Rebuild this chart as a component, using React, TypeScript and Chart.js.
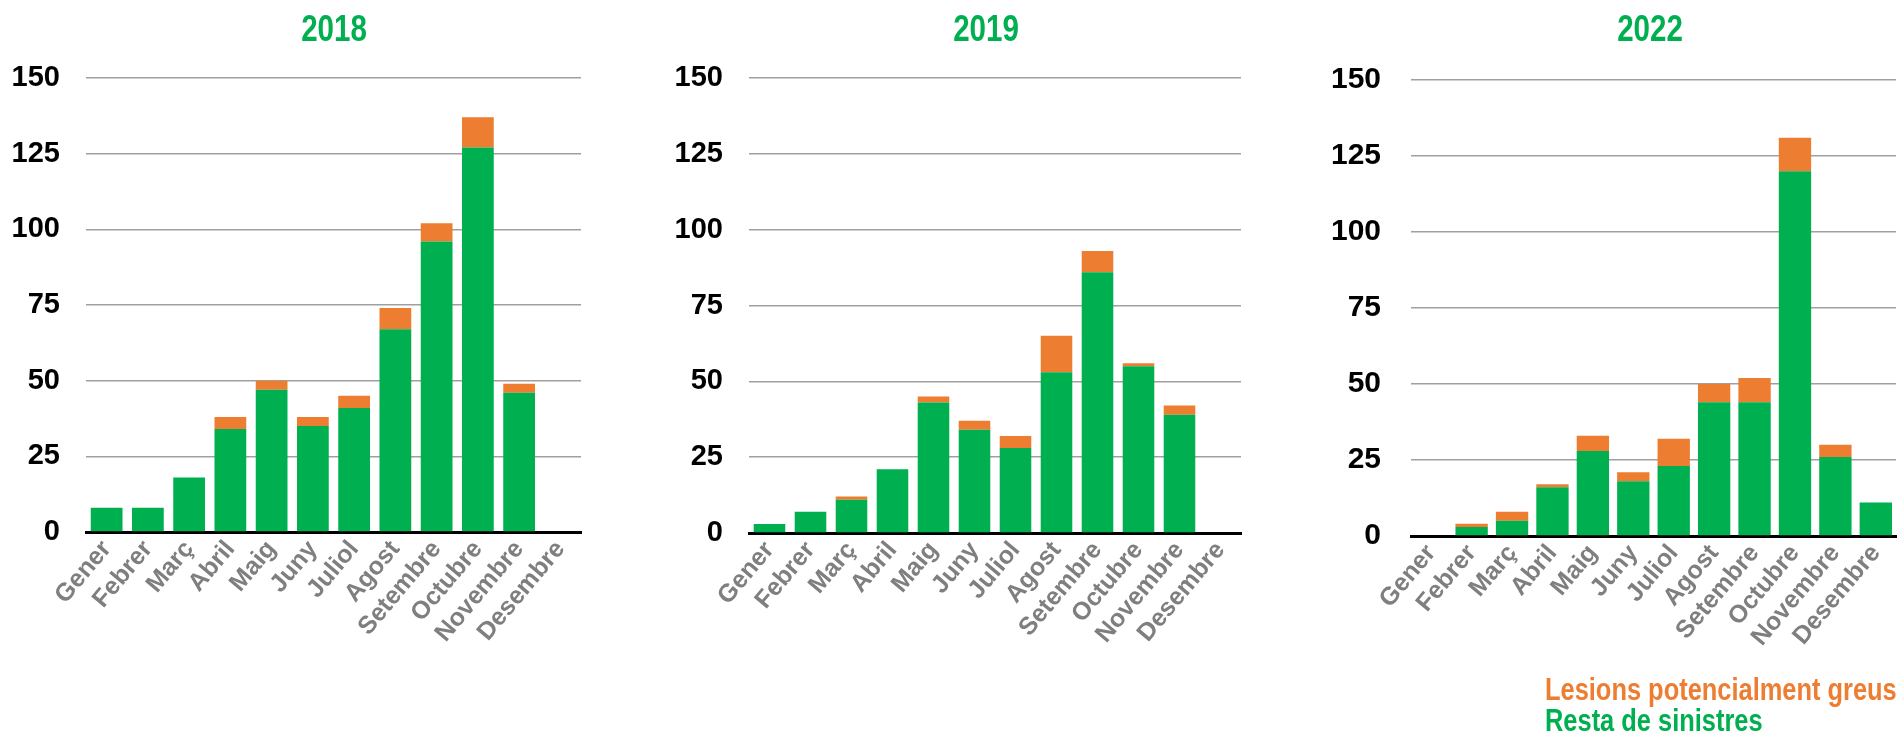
import React, { useEffect, useRef } from "react";
import { Chart, registerables } from "chart.js";

Chart.register(...registerables);

// ---- Data ----
const months = ["Gener", "Febrer", "Març", "Abril", "Maig", "Juny", "Juliol", "Agost", "Setembre", "Octubre", "Novembre", "Desembre"];
const years = ["2018", "2019", "2022"];
const seriesLabels = ["Resta de sinistres", "Lesions potencialment greus"];

const resta2018 = [8, 8, 18, 34, 47, 35, 41, 67, 96, 127, 46, 0];
const lesions2018 = [0, 0, 0, 4, 3, 3, 4, 7, 6, 10, 3, 0];
const resta2019 = [3, 7, 11, 21, 43, 34, 28, 53, 86, 55, 39, 0];
const lesions2019 = [0, 0, 1, 0, 2, 3, 4, 12, 7, 1, 3, 0];
const resta2022 = [0, 3, 5, 16, 28, 18, 23, 44, 44, 120, 26, 11];
const lesions2022 = [0, 1, 3, 1, 5, 3, 9, 6, 8, 11, 4, 0];

const yMin = 0;
const yMax = 150;
const yStep = 25;

// ---- Styles ----
const GREEN = "#00B050";
const ORANGE = "#ED7D31";
const ARIAL = '"Liberation Sans", Arial, sans-serif';
const CANVAS_H = 700;

const restaByYear = [resta2018, resta2019, resta2022];
const lesionsByYear = [lesions2018, lesions2019, lesions2022];

const panels = [
  { left: 0, width: 600, yAxisWidth: 86, rightPad: 19, tickPad: 26, chartTop: 78, chartBottom: 532, ySize: 29, barPct: 0.77, titleShift: 0 },
  { left: 640, width: 620, yAxisWidth: 109, rightPad: 19, tickPad: 26, chartTop: 78, chartBottom: 533, ySize: 29, barPct: 0.77, titleShift: -9 },
  { left: 1290, width: 612, yAxisWidth: 121, rightPad: 5, tickPad: 30, chartTop: 80, chartBottom: 536, ySize: 30, barPct: 0.8, titleShift: -4 },
];

function YearChart({ idx }: { idx: number }) {
  const ref = useRef<HTMLCanvasElement | null>(null);
  const p = panels[idx];
  useEffect(() => {
    if (!ref.current) return;
    const chart = new Chart(ref.current, {
      type: "bar",
      data: {
        labels: months,
        datasets: [
          {
            label: seriesLabels[0],
            data: restaByYear[idx],
            backgroundColor: GREEN,
            borderWidth: 0,
            categoryPercentage: 1,
            barPercentage: p.barPct,
          },
          {
            label: seriesLabels[1],
            data: lesionsByYear[idx],
            backgroundColor: ORANGE,
            borderWidth: 0,
            categoryPercentage: 1,
            barPercentage: p.barPct,
          },
        ],
      },
      options: {
        responsive: false,
        animation: false,
        devicePixelRatio: 1,
        layout: { padding: { top: p.chartTop, bottom: 0, left: 0, right: p.rightPad } },
        plugins: {
          legend: { display: false },
          tooltip: { enabled: false },
          title: { display: false },
        },
        scales: {
          x: {
            stacked: true,
            offset: true,
            grid: { display: false, drawTicks: false },
            border: { display: true, color: "#000000", width: 3 },
            ticks: {
              autoSkip: false,
              maxRotation: 50,
              minRotation: 50,
              padding: 3,
              color: "#7F7F7F",
              font: { family: ARIAL, size: 25, weight: "bold" },
            },
            afterFit: (scale: any) => {
              scale.height = CANVAS_H - p.chartBottom;
            },
          },
          y: {
            stacked: true,
            min: yMin,
            max: yMax,
            ticks: {
              stepSize: yStep,
              padding: p.tickPad,
              color: "#000000",
              font: { family: ARIAL, size: p.ySize, weight: "bold" },
            },
            grid: { color: "#A0A0A0", lineWidth: 1.5, drawTicks: false },
            border: { display: false },
            afterFit: (scale: any) => {
              scale.width = p.yAxisWidth;
            },
          },
        },
      },
    });
    return () => chart.destroy();
  }, [idx]);
  const center = p.left + p.yAxisWidth + (p.width - p.yAxisWidth - p.rightPad) / 2 + p.titleShift;
  return (
    <>
      <div style={{ position: "absolute", left: p.left, top: 0, width: p.width, height: CANVAS_H }}>
        <canvas ref={ref} width={p.width} height={CANVAS_H} style={{ width: p.width, height: CANVAS_H, display: "block" }} />
      </div>
      <div
        style={{
          position: "absolute",
          left: center - 100,
          top: 11,
          width: 200,
          textAlign: "center",
          fontFamily: ARIAL,
          fontWeight: "bold",
          fontSize: 36,
          lineHeight: "36px",
          color: GREEN,
          transform: "scaleX(0.82)",
          transformOrigin: "50% 50%",
        }}
      >
        {years[idx]}
      </div>
    </>
  );
}

export default function App() {
  return (
    <div style={{ position: "absolute", left: 0, top: 0, width: 1902, height: 739, background: "#ffffff", overflow: "hidden" }}>
      {panels.map((_, i) => (
        <YearChart key={i} idx={i} />
      ))}
      <div
        style={{
          position: "absolute",
          left: 1545,
          top: 674,
          fontFamily: ARIAL,
          fontWeight: "bold",
          fontSize: 31,
          lineHeight: "31px",
          whiteSpace: "nowrap",
          transform: "scaleX(0.82)",
          transformOrigin: "0 0",
        }}
      >
        <div style={{ color: ORANGE }}>{seriesLabels[1]}</div>
        <div style={{ color: GREEN }}>{seriesLabels[0]}</div>
      </div>
    </div>
  );
}
